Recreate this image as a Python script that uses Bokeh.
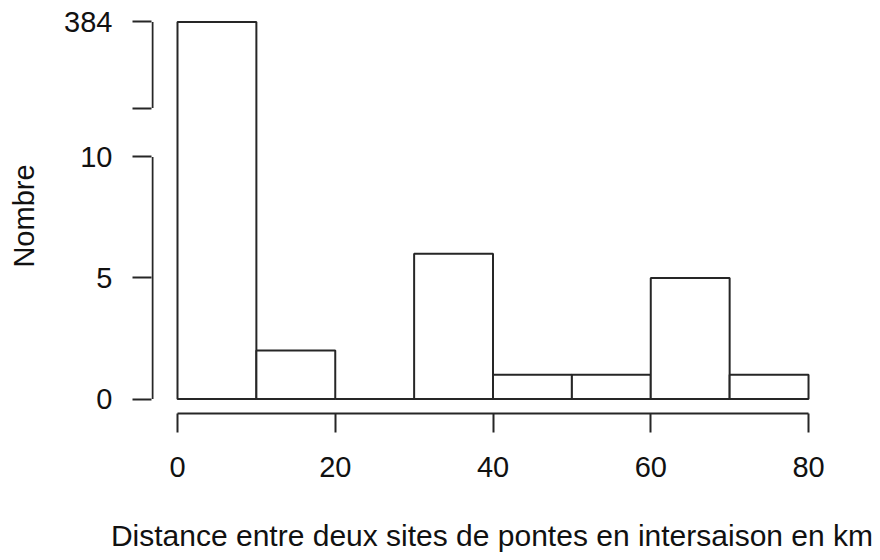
import numpy as np
from bokeh.plotting import figure
from bokeh.models import FixedTicker, Range1d
from bokeh.embed import file_html
from bokeh.resources import INLINE

# ---- data -------------------------------------------------------------
bin_edges = [0, 10, 20, 30, 40, 50, 60, 70, 80]
counts = [384, 2, 0, 6, 1, 1, 5, 1]
x_ticks = [0, 20, 40, 60, 80]
y_ticks_low = [0, 5, 10]
x_title = "Distance entre deux sites de pontes en intersaison en km"
y_title = "Nombre"

# broken y axis: values above 10 are drawn on an upper segment
gap_lo = 12.02   # axis position of the lower end of the upper segment
gap_hi = 15.58   # axis position of the largest count (384)
big_label = str(max(counts))

disp_top = [c if c <= 10 else gap_hi for c in counts]

FONT = "Liberation Sans"
INK = "#262626"
TXT = "#111111"

x_lo = -3.296
x_axis_pos = -3.17

p = figure(width=878, height=560,
           x_range=Range1d(x_lo, 83.04), y_range=Range1d(-0.599, 15.72),
           output_backend="svg", toolbar_location=None,
           min_border_left=151, min_border_right=46,
           min_border_top=18, min_border_bottom=147)
p.outline_line_color = None
p.grid.visible = False
p.background_fill_color = "white"
p.border_fill_color = "white"

p.quad(left=bin_edges[:-1], right=bin_edges[1:], bottom=0, top=disp_top,
       fill_color="white", line_color=INK, line_width=2)

# y axis line in two pieces (broken axis)
p.segment(x0=[x_axis_pos, x_axis_pos], y0=[0, gap_lo],
          x1=[x_axis_pos, x_axis_pos], y1=[10, gap_hi],
          line_color=INK, line_width=2)

# x axis
xa = p.xaxis[0]
xa.ticker = FixedTicker(ticks=x_ticks)
xa.bounds = (min(x_ticks), max(x_ticks))
xa.minor_tick_line_color = None
xa.major_tick_out = 19
xa.major_tick_in = 0
xa.major_tick_line_width = 2
xa.major_tick_line_color = INK
xa.axis_line_width = 2
xa.axis_line_color = INK
xa.major_label_standoff = 24
xa.major_label_text_font = FONT
xa.major_label_text_font_size = "29px"
xa.major_label_text_color = TXT
xa.axis_label = x_title
xa.axis_label_text_font = FONT
xa.axis_label_text_font_size = "30px"
xa.axis_label_text_font_style = "normal"
xa.axis_label_text_color = TXT
xa.axis_label_standoff = 39

# y axis
ya = p.yaxis[0]
ya.ticker = FixedTicker(ticks=y_ticks_low + [gap_lo, gap_hi])
ya.major_label_overrides = {gap_lo: "", gap_hi: big_label}
ya.axis_line_color = None
ya.minor_tick_line_color = None
ya.major_tick_out = 19
ya.major_tick_in = 0
ya.major_tick_line_width = 2
ya.major_tick_line_color = INK
ya.major_label_standoff = 20
ya.major_label_text_font = FONT
ya.major_label_text_font_size = "29px"
ya.major_label_text_color = TXT
ya.axis_label = y_title
ya.axis_label_text_font = FONT
ya.axis_label_text_font_size = "29px"
ya.axis_label_text_font_style = "normal"
ya.axis_label_text_color = TXT
ya.axis_label_standoff = 21

open("out.html", "w").write(file_html(p, INLINE))
